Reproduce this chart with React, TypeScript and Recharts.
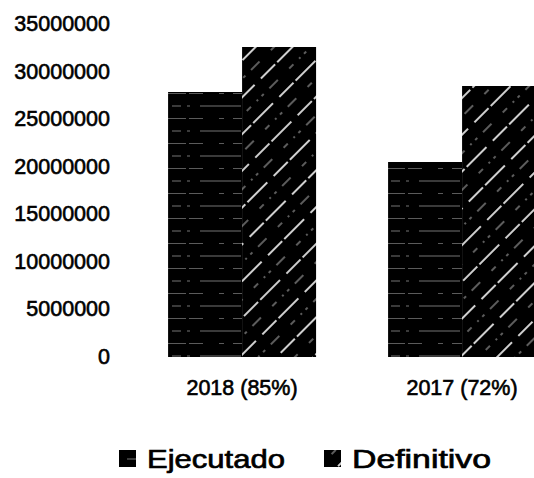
import { Bar, BarChart, Legend, XAxis, YAxis } from "recharts";

const CATEGORIES = ["2018 (85%)", "2017 (72%)"];
const EJECUTADO = [27850000, 20500000];
const DEFINITIVO = [32580000, 28480000];
const Y_TICKS = [0, 5000000, 10000000, 15000000, 20000000, 25000000, 30000000, 35000000];

const SERIES = [
  { key: "ejecutado", name: "Ejecutado", fill: "url(#pat-ejec)", textWidth: 138 },
  { key: "definitivo", name: "Definitivo", fill: "url(#pat-def)", textWidth: 139 },
];

const data = CATEGORIES.map((c, i) => ({
  cat: c,
  ejecutado: EJECUTADO[i],
  definitivo: DEFINITIVO[i],
}));

const FONT = "'Liberation Sans', Arial, sans-serif";

function YTick({ x, y, payload }: { x?: number; y?: number; payload?: { value: number } }) {
  return (
    <text
      x={x}
      y={y}
      textAnchor="end"
      dominantBaseline="central"
      fontFamily={FONT}
      fontSize={21.5}
      fill="#000"
      stroke="#000"
      strokeWidth={0.6}
    >
      {payload?.value}
    </text>
  );
}

function XTick({ x, y, payload }: { x?: number; y?: number; payload?: { value: string } }) {
  return (
    <text
      x={x}
      y={(y ?? 0) + 31}
      textAnchor="middle"
      dominantBaseline="central"
      fontFamily={FONT}
      fontSize={21.5}
      fill="#000"
      stroke="#000"
      strokeWidth={0.6}
    >
      {payload?.value}
    </text>
  );
}

/** Legend drawn as svg so the wide lettering can be matched with textLength. */
function ChartLegend() {
  const starts = [119, 324];
  return (
    <svg width={534} height={50} style={{ display: "block" }}>
      {SERIES.map((s, i) => (
        <g key={s.key}>
          <rect x={starts[i]} y={22} width={17} height={17} fill={s.fill} />
          <text
            x={starts[i] + 28}
            y={31}
            dominantBaseline="central"
            fontFamily={FONT}
            fontSize={26}
            textLength={s.textWidth}
            lengthAdjust="spacingAndGlyphs"
            fill="#000"
            stroke="#000"
            strokeWidth={0.7}
          >
            {s.name}
          </text>
        </g>
      ))}
    </svg>
  );
}

export default function App() {
  return (
    <div
      style={{
        position: "fixed",
        left: 0,
        top: 0,
        width: 534,
        height: 478,
        overflow: "hidden",
        background: "#fff",
      }}
    >
      <BarChart
        width={600}
        height={478}
        data={data}
        margin={{ top: 24, right: 28, bottom: 0, left: 0 }}
        barCategoryGap="16.4%"
        barGap={0}
      >
        <defs>
          <pattern id="pat-ejec" patternUnits="userSpaceOnUse" width={73} height={25}>
            <rect width={73} height={25} fill="#000" />
            <line
              x1={0}
              y1={6}
              x2={73}
              y2={6}
              stroke="#fff"
              strokeWidth={0.9}
              strokeOpacity={0.5}
              strokeDasharray="22 4 9 6 3 10 19"
            />
            <line
              x1={0}
              y1={18.5}
              x2={73}
              y2={18.5}
              stroke="#fff"
              strokeWidth={0.9}
              strokeOpacity={0.4}
              strokeDasharray="5 9 26 3 14 16"
            />
          </pattern>
          <pattern
            id="pat-def"
            patternUnits="userSpaceOnUse"
            width={26}
            height={60}
            patternTransform="rotate(45)"
          >
            <rect width={26} height={60} fill="#000" />
            <line x1={6} y1={0} x2={6} y2={60} stroke="#fff" strokeWidth={1.7} strokeOpacity={0.95} strokeDasharray="28 3 20 9" />
            <line x1={19} y1={0} x2={19} y2={60} stroke="#fff" strokeWidth={1.2} strokeOpacity={0.6} strokeDasharray="3 5 2 8 6 16 12 8" />
          </pattern>
        </defs>
        <XAxis
          dataKey="cat"
          height={71}
          axisLine={false}
          tickLine={false}
          tickSize={0}
          tickMargin={0}
          tick={<XTick />}
          interval={0}
        />
        <YAxis
          width={132}
          domain={[0, 35000000]}
          ticks={Y_TICKS}
          axisLine={false}
          tickLine={false}
          tickSize={0}
          tickMargin={22}
          tick={<YTick />}
          interval={0}
        />
        {SERIES.map((s) => (
          <Bar key={s.key} dataKey={s.key} name={s.name} fill={s.fill} isAnimationActive={false} />
        ))}
        <Legend verticalAlign="bottom" height={50} content={() => <ChartLegend />} />
      </BarChart>
    </div>
  );
}
